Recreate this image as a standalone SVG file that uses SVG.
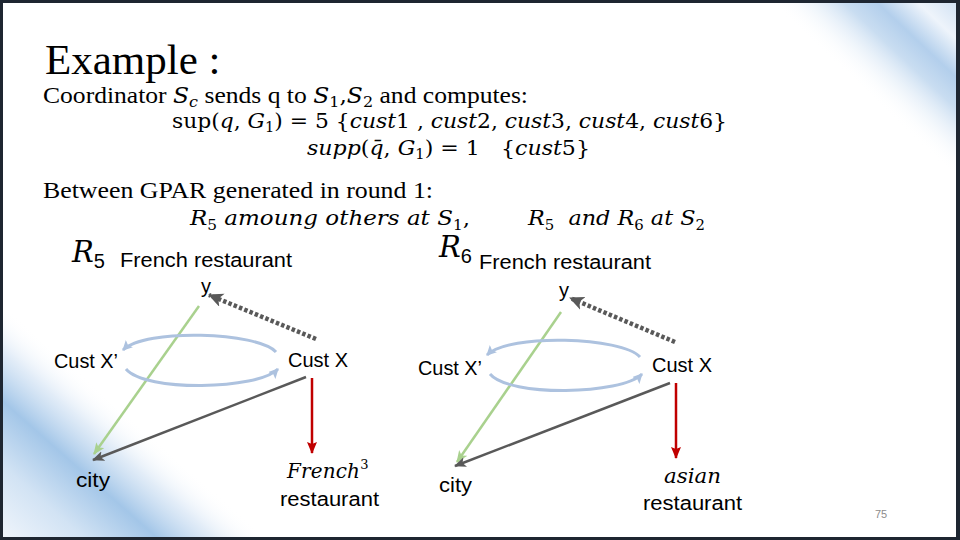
<svg xmlns="http://www.w3.org/2000/svg" width="960" height="540" viewBox="0 0 960 540">
<defs>
<style>
.ser{font-family:"Liberation Serif","Times New Roman",serif;fill:#000}
.mi{font-family:"DejaVu Serif","Liberation Serif",serif;font-style:italic}
.mu{font-family:"DejaVu Serif","Liberation Serif",serif;font-style:normal}
.lbl{font-family:"Liberation Sans",Arial,sans-serif;font-size:20px;fill:#000}
.c-gray{fill:none;stroke:#595959;stroke-width:2.5}
.c-dot{fill:none;stroke:#595959;stroke-width:4.5;stroke-dasharray:3.5 2.2}
.c-green{fill:none;stroke:#a9d18e;stroke-width:2.5}
.c-red{fill:none;stroke:#c00000;stroke-width:2.5}
.c-blue{fill:none;stroke:#adc2df;stroke-width:3}
</style>
<linearGradient id="gBL" gradientUnits="userSpaceOnUse" x1="125" y1="412" x2="10" y2="542">
<stop offset="0" stop-color="#ffffff" stop-opacity="0"/>
<stop offset="0.2" stop-color="#dbe8f6" stop-opacity="0.8"/>
<stop offset="0.42" stop-color="#a3c6e8"/>
<stop offset="0.7" stop-color="#d2e3f4"/>
<stop offset="1" stop-color="#eef4fb"/>
</linearGradient>
<linearGradient id="gTR" gradientUnits="userSpaceOnUse" x1="955" y1="3" x2="868" y2="95">
<stop offset="0" stop-color="#d3e3f4"/>
<stop offset="0.2" stop-color="#eef4fb"/>
<stop offset="0.42" stop-color="#b3cfec"/>
<stop offset="0.6" stop-color="#c9ddf1"/>
<stop offset="1" stop-color="#ffffff" stop-opacity="0"/>
</linearGradient>
<marker id="aGray" markerUnits="userSpaceOnUse" markerWidth="14" markerHeight="12" refX="11" refY="5" orient="auto">
<path d="M0,0 L12,5 L0,10 L3,5 z" fill="#595959"/>
</marker>
<marker id="aGreen" markerUnits="userSpaceOnUse" markerWidth="14" markerHeight="12" refX="11" refY="5" orient="auto">
<path d="M0,0 L12,5 L0,10 L3,5 z" fill="#a9d18e"/>
</marker>
<marker id="aRed" markerUnits="userSpaceOnUse" markerWidth="14" markerHeight="12" refX="11" refY="5" orient="auto">
<path d="M0,0 L12,5 L0,10 L2,5 z" fill="#c00000"/>
</marker>
<marker id="aBlue" markerUnits="userSpaceOnUse" markerWidth="14" markerHeight="12" refX="9" refY="5" orient="auto">
<path d="M0,0 L10,5 L0,10 L2,5 z" fill="#adc2df"/>
</marker>
<marker id="aDot" markerUnits="userSpaceOnUse" markerWidth="18" markerHeight="16" refX="14" refY="7" orient="auto">
<path d="M0,0 L15,7 L0,14 L4,7 z" fill="#595959"/>
</marker>
</defs>

<rect x="0" y="0" width="960" height="540" fill="#1e2631"/>
<rect x="3" y="3" width="953" height="534" fill="#ffffff"/>
<rect x="3" y="3" width="953" height="534" fill="url(#gBL)"/>
<rect x="3" y="3" width="953" height="534" fill="url(#gTR)"/>

<g id="text-block">
<text class="ser" x="45" y="74" font-size="43">Example :</text>
<text class="ser" x="43" y="103" font-size="24" textLength="485" lengthAdjust="spacingAndGlyphs" xml:space="preserve">Coordinator <tspan class="mi" font-size="22">S</tspan><tspan class="mi" font-size="15" dy="4">c</tspan><tspan dy="-4"> sends q to </tspan><tspan class="mi" font-size="22">S</tspan><tspan class="mu" font-size="15" dy="4">1</tspan><tspan class="mu" font-size="22" dy="-4">,</tspan><tspan class="mi" font-size="22">S</tspan><tspan class="mu" font-size="15" dy="4">2</tspan><tspan dy="-4"> and computes:</tspan></text>
<text x="172" y="128" font-size="21" textLength="555" lengthAdjust="spacingAndGlyphs" xml:space="preserve"><tspan class="mu">sup(</tspan><tspan class="mi">q</tspan><tspan class="mu">, </tspan><tspan class="mi">G</tspan><tspan class="mu" font-size="14" dy="4">1</tspan><tspan class="mu" dy="-4">) = 5 {</tspan><tspan class="mi">cust</tspan><tspan class="mu">1 , </tspan><tspan class="mi">cust</tspan><tspan class="mu">2, </tspan><tspan class="mi">cust</tspan><tspan class="mu">3, </tspan><tspan class="mi">cust</tspan><tspan class="mu">4, </tspan><tspan class="mi">cust</tspan><tspan class="mu">6}</tspan></text>
<text x="307" y="155" font-size="21" textLength="283" lengthAdjust="spacingAndGlyphs" xml:space="preserve"><tspan class="mi">supp</tspan><tspan class="mu">(</tspan><tspan class="mi">q̄</tspan><tspan class="mu">, </tspan><tspan class="mi">G</tspan><tspan class="mu" font-size="14" dy="4">1</tspan><tspan class="mu" dy="-4">) = 1   {</tspan><tspan class="mi">cust</tspan><tspan class="mu">5}</tspan></text>
<text class="ser" x="43" y="198" font-size="24" textLength="390" lengthAdjust="spacingAndGlyphs">Between GPAR generated in round 1:</text>
<text x="190" y="225" font-size="21" textLength="280" lengthAdjust="spacingAndGlyphs" xml:space="preserve"><tspan class="mi">R</tspan><tspan class="mu" font-size="14" dy="5">5</tspan><tspan class="mi" dy="-5"> amoung others at S</tspan><tspan class="mu" font-size="14" dy="5">1</tspan><tspan class="mu" dy="-5">,</tspan></text>
<text x="528" y="225" font-size="21" textLength="177" lengthAdjust="spacingAndGlyphs" xml:space="preserve"><tspan class="mi">R</tspan><tspan class="mu" font-size="14" dy="5">5</tspan><tspan class="mi" dy="-5">  and R</tspan><tspan class="mu" font-size="14" dy="5">6</tspan><tspan class="mi" dy="-5"> at S</tspan><tspan class="mu" font-size="14" dy="5">2</tspan></text>
</g>

<g id="connectors">
<line class="c-dot" x1="316" y1="339" x2="209" y2="295" marker-end="url(#aDot)"/>
<line class="c-green" x1="199" y1="306" x2="94" y2="454" marker-end="url(#aGreen)"/>
<line class="c-gray" x1="306" y1="377" x2="93" y2="460" marker-end="url(#aGray)"/>
<line class="c-red" x1="312" y1="378" x2="312" y2="453" marker-end="url(#aRed)"/>
<path class="c-blue" d="M276,352 C258,332 145,328 123,350" marker-end="url(#aBlue)"/>
<path class="c-blue" d="M126,369 C145,392 258,390 278,369" marker-end="url(#aBlue)"/>

<line class="c-dot" x1="675" y1="342" x2="570" y2="298" marker-end="url(#aDot)"/>
<line class="c-green" x1="561" y1="312" x2="457" y2="462" marker-end="url(#aGreen)"/>
<line class="c-gray" x1="670" y1="383" x2="455" y2="466" marker-end="url(#aGray)"/>
<line class="c-red" x1="676" y1="383" x2="676" y2="458" marker-end="url(#aRed)"/>
<path class="c-blue" d="M640,357 C622,337 509,333 487,355" marker-end="url(#aBlue)"/>
<path class="c-blue" d="M490,374 C509,397 622,395 642,374" marker-end="url(#aBlue)"/>
</g>

<g id="r5-title"><text x="72" y="262" font-size="29"><tspan class="mi">R</tspan><tspan class="lbl" font-size="20" dy="6">5</tspan></text></g>
<g id="r5-french"><text class="lbl" x="120" y="267" textLength="172" lengthAdjust="spacingAndGlyphs">French restaurant</text></g>
<g id="r5-y"><text class="lbl" x="201" y="293">y</text></g>
<g id="r5-custx2"><text class="lbl" x="54" y="368" textLength="64" lengthAdjust="spacingAndGlyphs">Cust X’</text></g>
<g id="r5-custx"><text class="lbl" x="288" y="367" textLength="60" lengthAdjust="spacingAndGlyphs">Cust X</text></g>
<g id="r5-city"><text class="lbl" x="76" y="487" textLength="34" lengthAdjust="spacingAndGlyphs">city</text></g>
<g id="r5-french3"><text x="287" y="478" font-size="20"><tspan class="mi" textLength="73">French</tspan><tspan class="mu" font-size="13" dy="-9">3</tspan></text>
<text class="lbl" x="280" y="506" textLength="99" lengthAdjust="spacingAndGlyphs">restaurant</text></g>

<g id="r6-title"><text x="439" y="257" font-size="29"><tspan class="mi">R</tspan><tspan class="lbl" font-size="20" dy="6">6</tspan></text></g>
<g id="r6-french"><text class="lbl" x="479" y="269" textLength="172" lengthAdjust="spacingAndGlyphs">French restaurant</text></g>
<g id="r6-y"><text class="lbl" x="559" y="297">y</text></g>
<g id="r6-custx2"><text class="lbl" x="418" y="375" textLength="64" lengthAdjust="spacingAndGlyphs">Cust X’</text></g>
<g id="r6-custx"><text class="lbl" x="652" y="372" textLength="60" lengthAdjust="spacingAndGlyphs">Cust X</text></g>
<g id="r6-city"><text class="lbl" x="439" y="492" textLength="33" lengthAdjust="spacingAndGlyphs">city</text></g>
<g id="r6-asian"><text class="mi" x="664" y="483" font-size="20" textLength="57" lengthAdjust="spacingAndGlyphs">asian</text>
<text class="lbl" x="643" y="510" textLength="99" lengthAdjust="spacingAndGlyphs">restaurant</text></g>

<g id="page-number"><text x="875" y="518" font-family="Liberation Sans, Arial, sans-serif" font-size="11" fill="#8c8c8c">75</text></g>
</svg>
